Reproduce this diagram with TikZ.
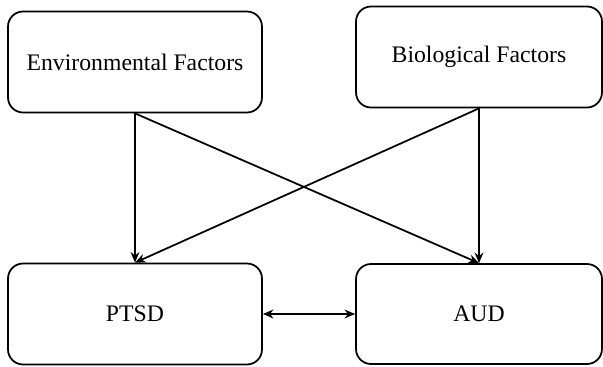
\documentclass[tikz,border=0pt]{standalone}
\usepackage{fontspec}
\setmainfont{Liberation Serif}
\usepackage{tikz}
\usetikzlibrary{arrows.meta}

\begin{document}
\begin{tikzpicture}[x=0.02cm, y=-0.02cm,
  factor/.style={draw, line width=1pt, rounded corners=0.3cm, align=center,
    font=\fontsize{13.5}{16}\selectfont},
  link/.style={line width=1pt, -{Stealth[length=6pt, width=5pt]}}]
\useasboundingbox (0,0) rectangle (603,366);

% Factor boxes (top row)
\node[factor, minimum width=5.08cm, minimum height=2.02cm] (env) at (135,62) {Environmental Factors};
\node[factor, minimum width=4.92cm, minimum height=2.02cm] (bio) at (479,57) {Biological Factors};

% Outcome boxes (bottom row)
\node[factor, minimum width=5.08cm, minimum height=2.02cm] (ptsd) at (135,314) {PTSD};
\node[factor, minimum width=4.92cm, minimum height=2.0cm] (aud) at (479,314) {AUD};

% Arrows from factors to outcomes
\draw[link] (env.south) -- (ptsd.north);
\draw[link] (env.south) -- (aud.north);
\draw[link] (bio.south) -- (ptsd.north);
\draw[link] (bio.south) -- (aud.north);

% Two-way link between outcomes
\draw[line width=1pt, {Stealth[length=6pt, width=5pt]}-{Stealth[length=6pt, width=5pt]}] (ptsd.east) -- (aud.west);
\end{tikzpicture}
\end{document}
